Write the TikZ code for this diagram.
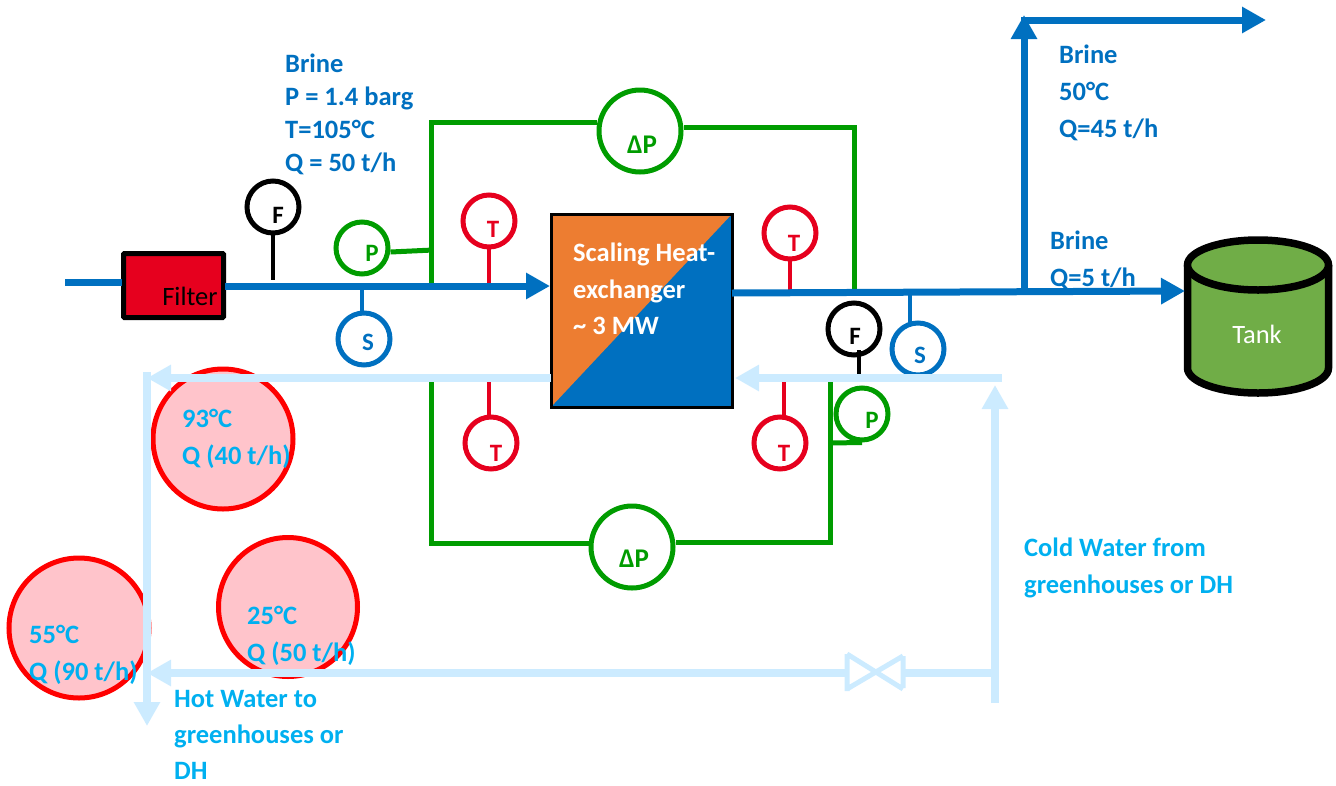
\documentclass[tikz,border=0pt]{standalone}
\usepackage{fontspec}
\setmainfont{Carlito}
\usepackage{xcolor}
\usepackage{tikz}
\usetikzlibrary{arrows.meta,positioning,shapes.geometric}
\definecolor{brine}{HTML}{0070C0}
\definecolor{dpgreen}{HTML}{009C00}
\definecolor{tred}{HTML}{E6001E}
\definecolor{water}{HTML}{CCEBFF}
\definecolor{sky}{HTML}{00B0F0}
\definecolor{hxorange}{HTML}{ED7D31}
\definecolor{tankgreen}{HTML}{70AD47}
\definecolor{blush}{HTML}{FFC4CB}

\begin{document}
\begin{tikzpicture}[
 x=1pt,y=-1pt,
 gauge/.style={circle,line width=5pt,minimum size=52pt,inner sep=0pt},
 dpgauge/.style={circle,draw=dpgreen,line width=5pt,minimum size=82pt,inner sep=0pt},
 gaugelab/.style={font=\fontsize{25}{28}\selectfont\bfseries,inner sep=0pt},
 stream/.style={circle,draw=red,fill=blush,line width=5pt,inner sep=0pt},
 brinetxt/.style={anchor=north west,align=left,inner sep=0pt,text=brine,font=\fontsize{26.5}{37}\selectfont\bfseries},
 watertxt/.style={anchor=north west,align=left,inner sep=0pt,text=sky,font=\fontsize{26.5}{37}\selectfont\bfseries},
 brinearr/.style={-{Triangle[length=24pt,width=25pt]},line width=7pt,draw=brine},
 waterarr/.style={-{Triangle[length=24pt,width=25pt]},line width=8pt,draw=water},
 waterln/.style={line width=8pt,draw=water},
 dpln/.style={line width=5pt,draw=dpgreen}
]
\useasboundingbox (0,0) rectangle (1336,785);
% hot and cold water circles
\node[stream,minimum size=140pt] (s93) at (223,439) {};
\node[stream,minimum size=140pt] (s55) at (79,628) {};
\node[stream,minimum size=139pt] (s25) at (288,607) {};
% main equipment
\node[draw=black,line width=5pt,fill=tred,minimum width=100pt,minimum height=64pt,rounded corners=1pt] (filter) at (173.5,285.5) {};
\node[font=\fontsize{26.5}{28}\selectfont,inner sep=0pt] (filterlab) at (190,296) {Filter};
\node[draw=black,line width=3pt,minimum width=181pt,minimum height=193pt,inner sep=0pt,
 path picture={\fill[brine] (path picture bounding box.south east) rectangle (path picture bounding box.north west);
 \fill[hxorange] (path picture bounding box.north west) -- (path picture bounding box.north east) -- (path picture bounding box.south west) -- cycle;}] (hx) at (641.5,310.5) {};
\node[anchor=north west,align=left,inner sep=0pt,text=white,font=\fontsize{26.5}{36.5}\selectfont\bfseries] (hxlab) at (573,243) {Scaling Heat-\\exchanger\\\textasciitilde{} 3 MW};
% tank
\fill[tankgreen,draw=black,line width=7.5pt] (1187.5,265) -- (1187.5,368) arc[start angle=180,end angle=0,x radius=70.5,y radius=25] -- (1328.5,265);
\draw[fill=tankgreen,draw=black,line width=7.5pt] (1258,265) ellipse [x radius=70.5,y radius=25];
\node[text=white,font=\fontsize{26.5}{28}\selectfont,inner sep=0pt] (tanklab) at (1257,334) {Tank};
% tap points
\coordinate (in0) at (65,282);
\coordinate (in1) at (122,282);
\coordinate (pipeA) at (225,286);
\coordinate (pipeB) at (550,286);
\coordinate (outA) at (732,293);
\coordinate (outB) at (1185,291);
\coordinate (teeUp) at (1024,291);
\coordinate (topA) at (1024,15);
\coordinate (topB) at (1021,20);
\coordinate (topC) at (1266,20);
% instruments
\foreach \nm/\cx/\cy/\lx/\ly/\lab/\col/\tx/\sy/\ty in {
 fa/273/207/278/215/F/black/273/234/280,
 sa/364/339/368/342/S/brine/362/312/288,
 ta/489/221/493/229/T/tred/489/248/285,
 tb/790/233/794/243/T/tred/790/260/292,
 sb/918/349/920/355/S/brine/910/323/295,
 tc/491/443/496/453/T/tred/489/417/378,
 td/780/443/784/453/T/tred/784/417/379,
 fb/854/329/855/336/F/black/859/350/377}{
 \node[gauge,draw=\col] (\nm) at (\cx,\cy) {};
 \node[gaugelab,text=\col] (\nm lab) at (\lx,\ly) {\lab};
 \coordinate (\nm root) at (\tx,\sy);
 \coordinate (\nm tap) at (\tx,\ty);
 \draw[\col,line width=4.5pt] (\nm root) -- (\nm tap);
}
\node[gauge,draw=dpgreen] (pa) at (362,248) {};
\node[gaugelab,text=dpgreen] (palab) at (372,253) {P};
\node[gauge,draw=dpgreen] (pb) at (862,414) {};
\node[gaugelab,text=dpgreen] (pblab) at (872,420) {P};
\node[dpgauge] (dpa) at (640,131) {};
\node[gaugelab,text=dpgreen,font=\fontsize{27}{28}\selectfont\bfseries] (dpalab) at (642,145) {ΔP};
\node[dpgauge] (dpb) at (632,547) {};
\node[gaugelab,text=dpgreen,font=\fontsize{27}{28}\selectfont\bfseries] (dpblab) at (634,559) {ΔP};
% green pressure lines
\coordinate (ga) at (431,285);
\coordinate (gb) at (854,291);
\coordinate (gc) at (431,380);
\coordinate (gd) at (830,378);
\draw[dpln] (ga) -- (431,122) -- (dpa.west |- 0,122);
\draw[dpln] (dpa.east |- 0,127) -- (854,127) -- (gb);
\draw[dpln] (gc) -- (431,543) -- (dpb.west |- 0,543);
\draw[dpln] (dpb.east |- 0,542) -- (830,542) -- (gd);
\draw[dpln] (pa.east |- 0,252) -- (433,250);
\draw[dpln] (830,443) -- (pb.south);
% brine lines
\draw[line width=7pt,draw=brine] (in0) -- (in1);
\draw[brinearr] (pipeA) -- (pipeB);
\draw[brinearr] (outA) -- (outB);
\draw[brinearr] (teeUp) -- (topA);
\draw[brinearr] (topB) -- (topC);
% water lines
\coordinate (wa) at (551,378);
\coordinate (wb) at (147,378);
\coordinate (wc) at (147,372);
\coordinate (wd) at (147,726);
\coordinate (we) at (1002,378);
\coordinate (wf) at (735,378);
\coordinate (wg) at (995,703);
\coordinate (wh) at (995,385);
\coordinate (va) at (847,673);
\coordinate (vb) at (903,673);
\draw[waterarr] (wa) -- (wb);
\draw[waterarr] (wc) -- (wd);
\draw[waterarr] (we) -- (wf);
\draw[waterarr] (wg) -- (wh);
\draw[waterarr] (va) -- (147,673);
\draw[waterln] (vb) -- (995,673);
% valve
\draw[water,line width=5pt] (847,654) -- (847,691) (903,656) -- (903,688) (847,689) -- (903,656) (847,654) -- (903,689);
% labels
\node[brinetxt,font=\fontsize{26.5}{33}\selectfont\bfseries] (inlab) at (285,53.5) {Brine\\P = 1.4 barg\\T=105°C\\Q = 50 t/h};
\node[brinetxt] (uplab) at (1059,45) {Brine\\50°C\\Q=45 t/h};
\node[brinetxt] (tanktxt) at (1050,231) {Brine\\Q=5 t/h};
\node[watertxt] (t93) at (182,408.5) {93°C\\Q (40 t/h)};
\node[watertxt] (t55) at (29,625) {55°C\\Q (90 t/h)};
\node[watertxt] (t25) at (247,606) {25°C\\Q (50 t/h)};
\node[watertxt,font=\fontsize{26.5}{36}\selectfont\bfseries] (hotlab) at (174,690.5) {Hot Water to\\greenhouses or\\DH};
\node[watertxt] (coldlab) at (1024,538) {Cold Water from\\greenhouses or DH};
\end{tikzpicture}
\end{document}
